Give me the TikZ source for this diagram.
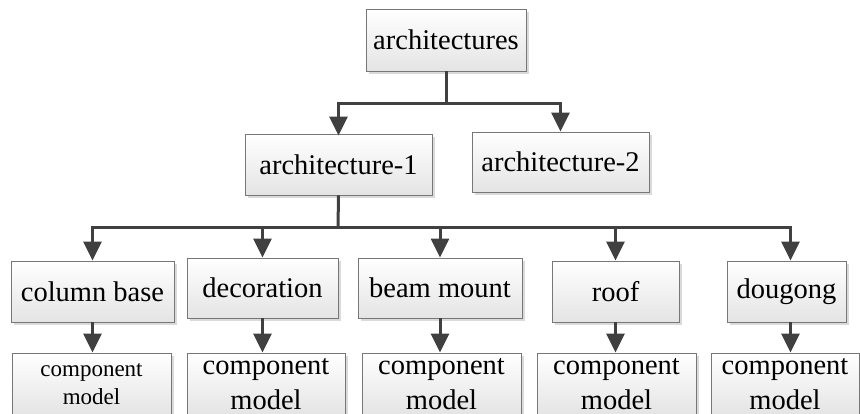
\documentclass[tikz,border=0pt]{standalone}
\usepackage{fontspec}
\setmainfont{Liberation Serif}
\usetikzlibrary{shadows,arrows.meta}
\definecolor{linecol}{HTML}{404040}
\definecolor{boxborder}{HTML}{777777}
\definecolor{boxbottom}{HTML}{E4E4E4}
\definecolor{shadowcol}{HTML}{DADADA}
\begin{document}
\begin{tikzpicture}[x=1pt,y=-1pt,
  box/.style={draw=boxborder, line width=0.8pt, top color=white, bottom color=boxbottom,
    inner sep=0pt, align=center,
    drop shadow={shadow xshift=3pt, shadow yshift=-3pt, fill=shadowcol, opacity=1}},
  conn/.style={draw=linecol, line width=3pt},
  arr/.style={conn, -{Triangle[length=19pt,width=18pt]}}]
\useasboundingbox (0,0) rectangle (860,414);
\clip (0,0) rectangle (860,414);
% level 0
\node[box, minimum width=160pt, minimum height=62pt] (top) at (446,40) {\fontsize{28.5}{34}\selectfont architectures};
% level 1
\node[box, minimum width=187pt, minimum height=61pt] (a1) at (338.5,164.5) {\fontsize{28.5}{34}\selectfont architecture-1};
\node[box, minimum width=177pt, minimum height=60pt] (a2) at (560.5,162) {\fontsize{28.5}{34}\selectfont architecture-2};
% level 2
\node[box, minimum width=163pt, minimum height=61pt] (cb) at (92.5,291.5) {\fontsize{28.5}{34}\selectfont column base};
\node[box, minimum width=151pt, minimum height=60pt] (dec) at (262.5,288) {\fontsize{28.5}{34}\selectfont decoration};
\node[box, minimum width=164pt, minimum height=60pt] (bm) at (440,288) {\fontsize{28.5}{34}\selectfont beam mount};
\node[box, minimum width=127pt, minimum height=61pt] (roof) at (615.5,291.5) {\fontsize{28.5}{34}\selectfont roof};
\node[box, minimum width=119pt, minimum height=61pt] (dg) at (786.5,291.5) {\fontsize{28.5}{34}\selectfont dougong};
% level 3
\node[box, minimum width=159pt, minimum height=62pt, font=\fontsize{23}{28}\selectfont] (cm1) at (91.5,384) {component\\model};
\node[box, minimum width=158pt, minimum height=62pt, font=\fontsize{28.5}{35}\selectfont] (cm2) at (266,384) {component\\model};
\node[box, minimum width=159pt, minimum height=62pt, font=\fontsize{28.5}{35}\selectfont] (cm3) at (441.5,384) {component\\model};
\node[box, minimum width=159pt, minimum height=62pt, font=\fontsize{28.5}{35}\selectfont] (cm4) at (616.5,384) {component\\model};
\node[box, minimum width=148pt, minimum height=62pt, font=\fontsize{28.5}{35}\selectfont] (cm5) at (785,384) {component\\model};
% connectors level 0 -> 1
\coordinate (j0) at (446,104);
\draw[conn] (top.south) -- (j0);
\draw[arr] (j0) -| ([yshift=-2pt]a1.north);
\draw[arr] (j0) -| (a2.north);
% connectors level 1 -> 2
\coordinate (j1) at (338,228);
\draw[conn] (a1.south) -- (j1);
\draw[arr] (j1) -| (cb.north);
\draw[arr] (j1) -| (dec.north);
\draw[arr] (j1) -| (bm.north);
\draw[arr] (j1) -| (roof.north);
\draw[arr] (j1) -| ([xshift=4pt]dg.north);
% connectors level 2 -> 3
\draw[arr] (cb.south) -- (cb.south |- cm1.north);
\draw[arr] (dec.south) -- (dec.south |- cm2.north);
\draw[arr] (bm.south) -- (bm.south |- cm3.north);
\draw[arr] (roof.south) -- (roof.south |- cm4.north);
\draw[arr] ([xshift=4pt]dg.south) -- ([xshift=4pt]dg.south |- cm5.north);
\end{tikzpicture}
\end{document}
